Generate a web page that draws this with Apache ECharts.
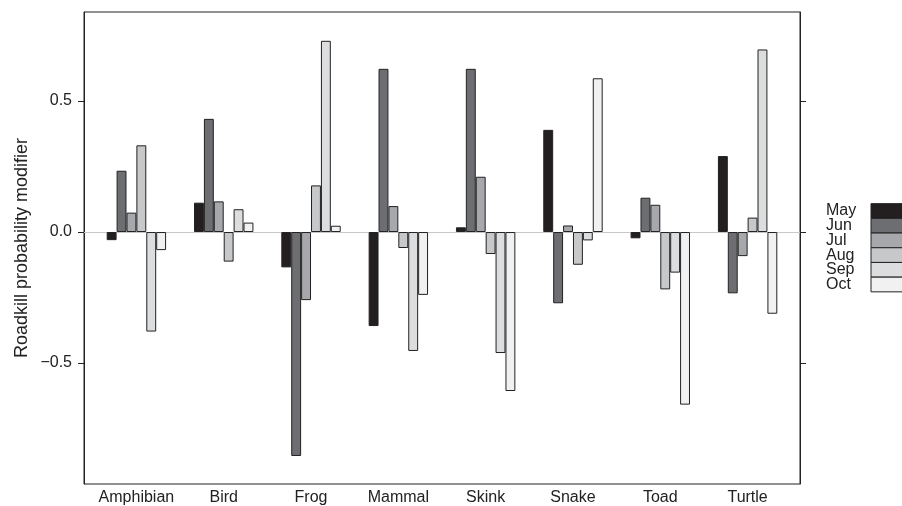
<!DOCTYPE html>
<html lang="en">
<head>
    <meta charset="UTF-8">
    <title>Roadkill probability modifier</title>
    <script src="https://cdn.jsdelivr.net/npm/echarts@6/dist/echarts.min.js"></script>
    <style>
        html, body { margin: 0; padding: 0; background: #fff; }
    </style>
</head>
<body>
<div id="container" style="width: 902px; height: 506px;"></div>

<script>
    // species along the x axis
    var species = ['Amphibian', 'Bird', 'Frog', 'Mammal', 'Skink', 'Snake', 'Toad', 'Turtle'];
    var months = ['May', 'Jun', 'Jul', 'Aug', 'Sep', 'Oct'];

    // modifier per species, one array per month
    var mayVals = [-0.031, 0.112, -0.135, -0.359, 0.018, 0.390, -0.024, 0.290];
    var junVals = [0.234, 0.432, -0.855, 0.623, 0.623, -0.272, 0.131, -0.234];
    var julVals = [0.074, 0.117, -0.260, 0.099, 0.211, 0.025, 0.104, -0.092];
    var augVals = [0.331, -0.113, 0.178, -0.061, -0.084, -0.125, -0.219, 0.055];
    var sepVals = [-0.380, 0.087, 0.730, -0.454, -0.462, -0.032, -0.155, 0.697];
    var octVals = [-0.069, 0.036, 0.024, -0.240, -0.607, 0.587, -0.659, -0.312];

    var yTicks = [-0.5, 0, 0.5];

    var monthVals = [mayVals, junVals, julVals, augVals, sepVals, octVals];
    var greys = ['#231f20', '#6d6e71', '#a6a8ab', '#c7c8ca', '#dcdddf', '#f1f1f2'];
    var font = '"Liberation Sans", Arial, sans-serif';
    var ink = '#222';

    var xIdx = species.map(function (s, i) { return i; });

    var series = months.map(function (m, k) {
        return {
            name: m,
            type: 'bar',
            barWidth: 9.9,
            barGap: '0%',
            data: monthVals[k].map(function (v, i) { return [i, v]; }),
            itemStyle: {
                color: greys[k],
                borderColor: ink,
                borderWidth: 1
            },
            emphasis: { disabled: true }
        };
    });

    var chart = echarts.init(document.getElementById('container'), null, { renderer: 'canvas' });
    chart.setOption({
        animation: false,
        textStyle: { fontFamily: font, color: ink },
        grid: {
            left: 84, top: 12, width: 716, height: 472,
            show: true, borderColor: ink, borderWidth: 1, backgroundColor: 'transparent'
        },
        legend: {
            orient: 'vertical',
            left: 826,
            top: 203,
            padding: 0,
            align: 'right',
            icon: 'rect',
            itemWidth: 40,
            itemHeight: 14.7,
            itemGap: -1.3,
            selectedMode: false,
            data: months,
            itemStyle: { borderColor: ink, borderWidth: 1 },
            formatter: '{t|{name}}',
            textStyle: {
                fontFamily: font, fontSize: 16, color: ink, lineHeight: 14,
                rich: { t: { width: 40, height: 14, lineHeight: 14, align: 'left', fontSize: 16, fontFamily: font, color: ink } }
            }
        },
        xAxis: [{
            type: 'value',
            min: -0.6,
            max: 7.6,
            position: 'bottom',
            axisLine: { show: false, onZero: false },
            axisTick: { show: false },
            splitLine: { show: false },
            axisLabel: {
                customValues: xIdx,
                margin: 6,
                fontSize: 16,
                fontFamily: font,
                color: ink,
                formatter: function (v) { return species[Math.round(v)]; }
            }
        }, {
            // grey reference line at zero
            type: 'value',
            min: -0.6,
            max: 7.6,
            position: 'top',
            axisLine: { show: true, onZero: true, lineStyle: { color: '#c8c8c8', width: 1 } },
            axisTick: { show: false },
            axisLabel: { show: false },
            splitLine: { show: false }
        }],
        yAxis: [{
            type: 'value',
            min: -0.962,
            max: 0.84,
            position: 'left',
            name: 'Roadkill probability modifier',
            nameLocation: 'middle',
            nameGap: 53,
            nameMoveOverlap: false,
            nameTextStyle: { fontSize: 18, fontFamily: font, color: ink },
            axisLine: { show: true, onZero: false, lineStyle: { color: ink } },
            axisTick: { show: true, length: 6, customValues: yTicks, lineStyle: { color: ink } },
            splitLine: { show: false },
            axisLabel: {
                customValues: yTicks,
                margin: 12,
                fontSize: 16,
                fontFamily: font,
                color: ink,
                formatter: function (v) { return v.toFixed(1).replace('-', '\u2212'); }
            }
        }, {
            type: 'value',
            min: -0.962,
            max: 0.84,
            position: 'right',
            axisLine: { show: true, onZero: false, lineStyle: { color: ink } },
            axisTick: { show: true, length: 6, customValues: yTicks, lineStyle: { color: ink } },
            splitLine: { show: false },
            axisLabel: { show: false }
        }],
        series: series
    });
</script>
</body>
</html>
